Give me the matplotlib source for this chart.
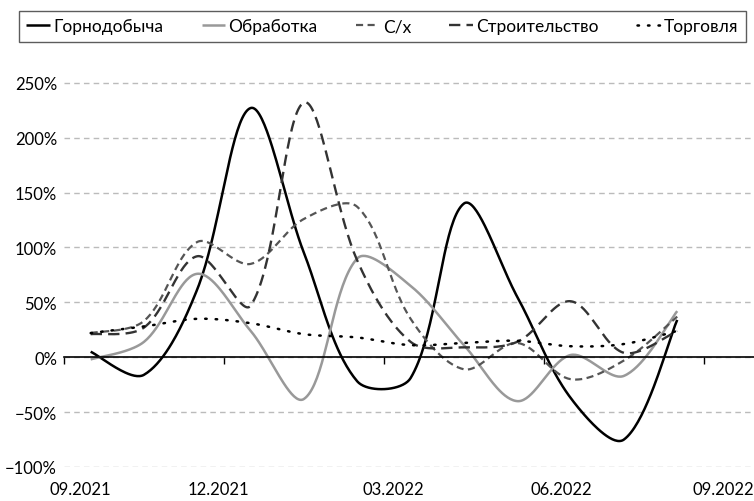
import numpy as np
import matplotlib
matplotlib.use("Agg")
import matplotlib.pyplot as plt
from matplotlib.ticker import FuncFormatter, FixedLocator

plt.rcParams['font.family'] = ['Lato', 'DejaVu Sans']

# monthly points, 09.2021 .. 08.2022 (category centres)
months = np.arange(12) + 0.5
tick_pos = [0, 3, 6, 9, 12]
label_pos = [0.30, 2.89, 6.17, 9.32, 12.36]
tick_labels = ["09.2021", "12.2021", "03.2022", "06.2022", "09.2022"]

mining = [5, -16, 62, 227, 95, -22, -19, 140, 55, -37, -75, 34]
manufacturing = [-2, 14, 76, 24, -38, 90, 65, 11, -40, 2, -17, 42]
agriculture = [22, 33, 105, 85, 126, 137, 35, -11, 13, -20, -3, 37]
construction = [21, 27, 92, 47, 232, 88, 14, 9, 14, 51, 4, 24]
trade = [22, 28, 35, 31, 21, 18, 11, 13, 15, 10, 12, 24]

names = ["Горнодобыча", "Обработка", "С/х", "Строительство", "Торговля"]

PX_X = 53.33   # pixels per month (for chord lengths)
PX_Y = 1.1     # pixels per percent


def smooth(x, y, n=40):
    """Bezier smoothing with chord-length scaled tangents (Excel-like)."""
    P = np.column_stack([np.asarray(x, float) * PX_X, np.asarray(y, float) * PX_Y])
    m = len(P)
    seg = np.linalg.norm(np.diff(P, axis=0), axis=1)
    out = []
    for i in range(m - 1):
        p1, p2 = P[i], P[i + 1]
        p0 = P[i - 1] if i > 0 else p1
        p3 = P[i + 2] if i + 2 < m else p2
        d01 = seg[i - 1] if i > 0 else seg[i]
        d12 = seg[i]
        d23 = seg[i + 1] if i + 2 < m else seg[i]
        c1 = p1 + (p2 - p0) * d12 / (d01 + d12) / 3
        c2 = p2 - (p3 - p1) * d12 / (d12 + d23) / 3
        t = np.linspace(0, 1, n, endpoint=(i == m - 2))[:, None]
        b = (1 - t) ** 3 * p1 + 3 * (1 - t) ** 2 * t * c1 + 3 * (1 - t) * t ** 2 * c2 + t ** 3 * p2
        out.append(b)
    B = np.vstack(out)
    return B[:, 0] / PX_X, B[:, 1] / PX_Y


fig = plt.figure(figsize=(7.54, 5.02), dpi=100)
ax = fig.add_axes([64 / 754, 34 / 502, 1 - 64 / 754, (468 - 75) / 502])

styles = [
    dict(color="black", lw=1.8, ls="-"),
    dict(color="#999999", lw=1.8, ls="-"),
    dict(color="#555555", lw=1.6, ls=(0, (3.2, 2.0))),
    dict(color="#333333", lw=1.7, ls=(0, (4.8, 2.6))),
    dict(color="black", lw=1.8, ls=(0, (0.6, 3.6)), dash_capstyle="round"),
]
series = [mining, manufacturing, agriculture, construction, trade]
handles = []
for name, vals, st in zip(names, series, styles):
    sx, sy = smooth(months, vals)
    ln, = ax.plot(sx, sy, label=name, solid_capstyle="butt", **st)
    handles.append(ln)

ax.set_xlim(0, 12.94)
ax.set_ylim(-100, 258)
ax.yaxis.set_major_locator(FixedLocator([-100, -50, 0, 50, 100, 150, 200, 250]))
ax.yaxis.set_major_formatter(FuncFormatter(lambda v, p: f"{int(v)}%".replace("-", "\u2212")))
ax.grid(axis="y", color="#bbbbbb", ls=(0, (4, 3)), lw=1.0)
ax.set_axisbelow(True)
for s in ["left", "right", "top"]:
    ax.spines[s].set_visible(False)
ax.spines["bottom"].set_position(("data", 0))
ax.spines["bottom"].set_color("black")
ax.spines["bottom"].set_linewidth(1.2)
ax.xaxis.set_major_locator(FixedLocator(tick_pos))
ax.tick_params(axis="x", direction="out", length=5, width=1, color="black", labelbottom=False)
ax.tick_params(axis="y", length=0, labelsize=12, pad=5)

sec = ax.secondary_xaxis(0.0)
sec.set_xticks(label_pos)
sec.set_xticklabels(tick_labels)
sec.spines["bottom"].set_visible(False)
sec.tick_params(length=0, labelsize=12, pad=10)

leg = fig.legend(handles=handles, loc="upper left", bbox_to_anchor=(10 / 754, 1 - 3 / 502),
                 ncol=5, frameon=True, fancybox=False, fontsize=12.5,
                 handlelength=1.35, handletextpad=0.2, columnspacing=2.2,
                 borderpad=0.45)
leg.get_frame().set_edgecolor("#333333")
leg.get_frame().set_linewidth(1.0)

fig.savefig("out.png", dpi=100)
